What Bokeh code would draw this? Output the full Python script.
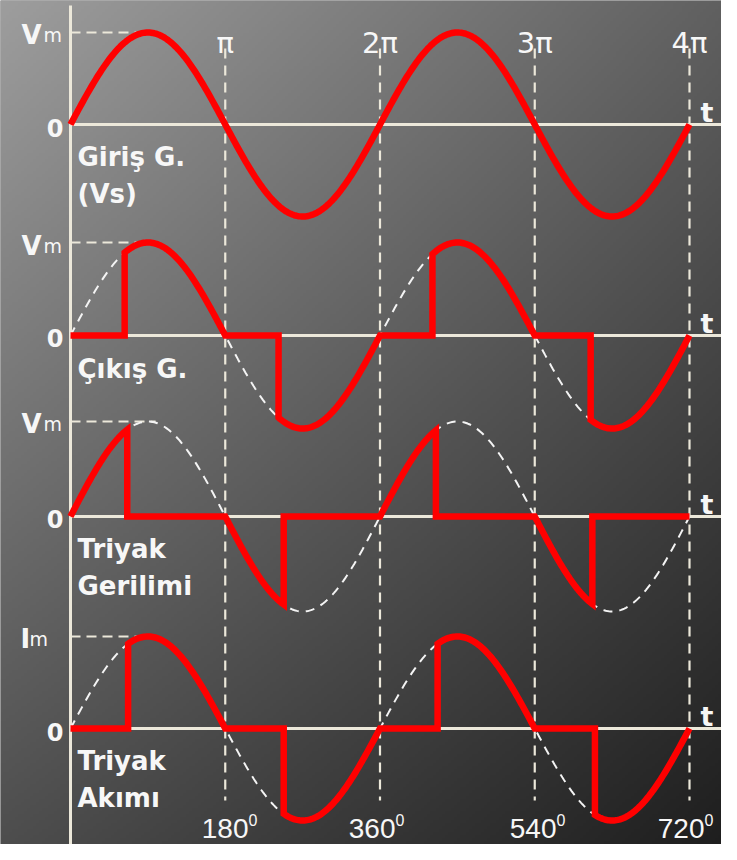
import numpy as np
from bokeh.plotting import figure
from bokeh.models import Range1d
from bokeh.core.properties import value
from bokeh.embed import file_html
from bokeh.resources import INLINE

# ---------------- data ----------------
tick_deg = [180, 360, 540, 720]
pi_labels = ["π", "2π", "3π", "4π"]
deg_labels = ["180", "360", "540", "720"]
panel_names = [["Giriş G.", "(Vs)"], ["Çıkış G."], ["Triyak", "Gerilimi"], ["Triyak", "Akımı"]]
peak_labels = ["V", "V", "V", "I"]
# firing angles (degrees), one per half cycle
fire_output = [63, 242, 421, 605]
fire_triac_v = [66, 248, 425, 607]
fire_current = [67, 248, 427, 610]
peak_line_end_deg = 99

# ---------------- layout (reference pixel geometry) ----------------
PX_PER_DEG = 154.75 / 180.0
AXIS_X = 70
zero_y = [124, 335, 516, 728]     # zero line of each panel (px)
amp_px = [92, 93, 95, 92]         # amplitude of each panel (px)


def X(px):
    return (px - AXIS_X) / PX_PER_DEG


def Y(py):
    return -py


def panel_y(i, v):
    return -zero_y[i] + np.asarray(v) * amp_px[i]


def sine_seg(a, b, n=80):
    d = np.linspace(a, b, n)
    return list(d), list(np.sin(np.radians(d)))


def conducting(fires):
    xs, ys = [], []
    for k, f in enumerate(fires):
        s, e = 180 * k, 180 * (k + 1)
        xs += [s, f]
        ys += [0.0, 0.0]
        dx, dy = sine_seg(f, e)
        xs += dx
        ys += dy
    return xs, ys


def blocking(fires):
    xs, ys = [], []
    for k, f in enumerate(fires):
        s, e = 180 * k, 180 * (k + 1)
        dx, dy = sine_seg(s, f)
        xs += dx
        ys += dy
        xs += [f, e]
        ys += [0.0, 0.0]
    return xs, ys


W, H = 721, 844
p = figure(width=W, height=H, output_backend="svg", toolbar_location=None,
           x_range=Range1d(X(0), X(W)), y_range=Range1d(Y(H), Y(0)),
           x_axis_type=None, y_axis_type=None, min_border=0,
           outline_line_color=None)
p.grid.visible = False
p.background_fill_color = "#606060"
p.border_fill_color = "#606060"

# ---------------- background gradient ----------------
gw, gh = 240, 282
cols = np.arange(gw)
rows = np.arange(gh)
u = ((cols + 0.5) * W / gw) / 737.0
v = (H - (rows + 0.5) * H / gh) / 860.0   # row 0 is at the bottom
U, V = np.meshgrid(u, v)
TL, TR, BL, BR = 158.0, 95.0, 76.0, 28.0
L = TL * (1 - U) * (1 - V) + TR * U * (1 - V) + BL * (1 - U) * V + BR * U * V
L = np.clip(L, 0, 255).astype(np.uint32)
img = (255 << 24) | (L << 16) | (L << 8) | L
p.image_rgba(image=[img.astype(np.uint32)], x=X(0), y=Y(H), dw=X(W) - X(0), dh=H)

AX_COL = "#ece8da"
TXT_COL = "#f7f7f7"
RED = "#ff0000"

# vertical dashed lines at pi multiples
p.segment(x0=tick_deg, x1=tick_deg, y0=[Y(48)] * 4, y1=[Y(800)] * 4,
          line_color=AX_COL, line_width=2.2, line_dash="10 7")

# vertical axis
p.segment(x0=[0], x1=[0], y0=[Y(5)], y1=[Y(H)], line_color=AX_COL, line_width=3)

for i in range(4):
    # zero line
    p.segment(x0=[0], x1=[X(730)], y0=[panel_y(i, 0)], y1=[panel_y(i, 0)],
              line_color=AX_COL, line_width=3)
    # peak level dashed line
    p.segment(x0=[0], x1=[peak_line_end_deg], y0=[panel_y(i, 1)], y1=[panel_y(i, 1)],
              line_color=AX_COL, line_width=2, line_dash="10 6")

# dashed reference sine for panels 2..4
for i in (1, 2, 3):
    dx, dy = sine_seg(0, 720, 400)
    p.line(dx, panel_y(i, dy), line_color="#f4f4f4", line_width=2, line_dash="9 7")

# red waveforms
dx, dy = sine_seg(0, 720, 400)
p.line(dx, panel_y(0, dy), line_color=RED, line_width=6.5, line_join="round")
for i, (fn, fires) in zip((1, 2, 3), ((conducting, fire_output),
                                        (blocking, fire_triac_v),
                                        (conducting, fire_current))):
    xs, ys = fn(fires)
    p.line(xs, panel_y(i, ys), line_color=RED, line_width=6.5, line_join="miter")

# ---------------- texts ----------------
FONT = value("DejaVu Sans")
FONT2 = value("Liberation Sans")

# pi labels
p.text(x=tick_deg, y=[Y(42)] * 4, text=pi_labels, text_font=FONT, text_font_size="29px",
       text_color=TXT_COL, text_align="center", text_baseline="alphabetic")

# degree labels
deg_right = [X(248), X(395), X(556), X(704)]
p.text(x=deg_right, y=[Y(828)] * 4, text=deg_labels, text_font=FONT2, text_font_size="28px",
       text_color=TXT_COL, text_align="right", text_baseline="alphabetic")
p.text(x=deg_right, y=[Y(819)] * 4, text=["0"] * 4, text_font=FONT2, text_font_size="16px",
       text_color=TXT_COL, text_align="left", text_baseline="alphabetic")

# peak labels (Vm / Im)
peak_base = [34, 245, 423, 638]
peak_x = [21, 21, 21, 20]
sub_x = [43, 43, 43, 29]
p.text(x=[X(v) for v in peak_x], y=[Y(b) for b in peak_base], text=peak_labels,
       text_font=FONT, text_font_style="bold", text_font_size="26px",
       text_color=TXT_COL, text_align="left", text_baseline="alphabetic")
p.text(x=[X(v) for v in sub_x], y=[Y(b) for b in peak_base], text=["m"] * 4,
       text_font=FONT, text_font_size="19px",
       text_color=TXT_COL, text_align="left", text_baseline="alphabetic")

# zero labels
zero_base = [127, 337, 518, 731]
p.text(x=[X(63)] * 4, y=[Y(b) for b in zero_base], text=["0"] * 4,
       text_font=FONT, text_font_style="bold", text_font_size="24px",
       text_color=TXT_COL, text_align="right", text_baseline="alphabetic")

# t labels
p.text(x=[X(700)] * 4, y=[Y(z - 12) for z in zero_y], text=["t"] * 4,
       text_font=FONT, text_font_style="bold", text_font_size="27px",
       text_color=TXT_COL, text_align="left", text_baseline="alphabetic")

# panel names
name_base = [[156, 193], [368], [548, 585], [760, 797]]
nx, ny, nt = [], [], []
for names, bases in zip(panel_names, name_base):
    for t, b in zip(names, bases):
        nx.append(X(77))
        ny.append(Y(b))
        nt.append(t)
p.text(x=nx, y=ny, text=nt, text_font=FONT, text_font_style="bold", text_font_size="26px",
       text_color=TXT_COL, text_align="left", text_baseline="alphabetic")

open("out.html", "w").write(file_html(p, INLINE))
